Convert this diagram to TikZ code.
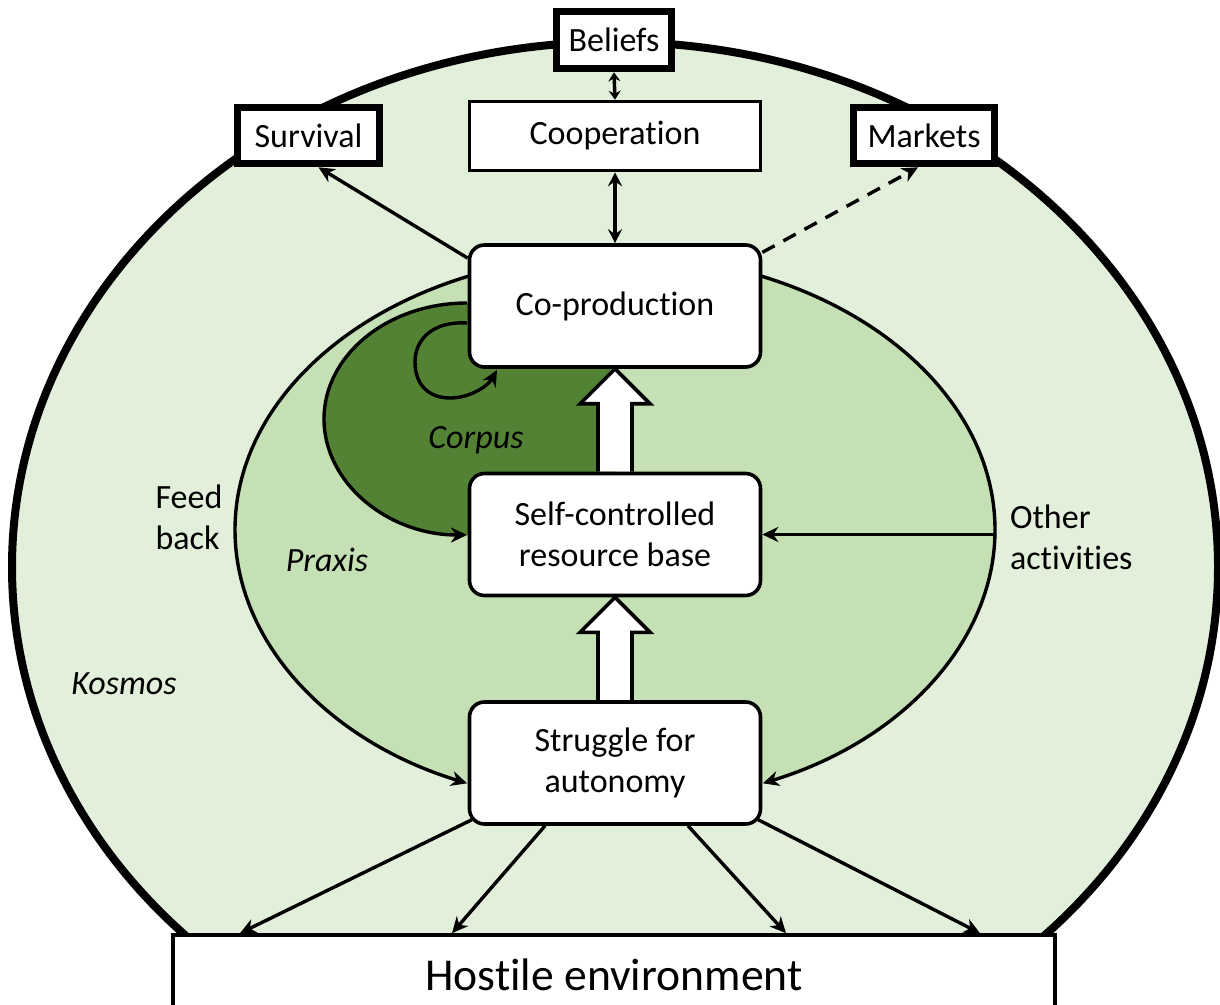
\documentclass[tikz,border=0pt]{standalone}
\usepackage{fontspec}
\setmainfont{Carlito}[Ligatures=NoCommon]
\usetikzlibrary{arrows.meta,calc,backgrounds}
\definecolor{kosmos}{HTML}{E2EFDA}
\definecolor{praxis}{HTML}{C5E0B4}
\definecolor{corpus}{HTML}{548235}

\begin{document}
\begin{tikzpicture}[x=0.5pt,y=-0.5pt,
  txt/.style={font=\fontsize{17}{20.5}\selectfont},
  itxt/.style={font=\fontsize{17}{20.5}\selectfont\itshape},
  box/.style={draw,line width=1.8pt,fill=white,rounded corners=7.5pt,minimum width=145.5pt,minimum height=61pt,align=center,txt},
  plainbox/.style={draw,line width=1.8pt,fill=white,minimum width=145.5pt,minimum height=34.5pt,txt},
  boldbox/.style={draw,line width=3.8pt,fill=white,inner sep=0pt,minimum height=28pt,txt},
  arr/.style={line width=1.7pt,-{Stealth[length=8pt,width=7.5pt,inset=2.5pt]}},
  dblarr/.style={line width=1.7pt,{Stealth[length=7pt,width=7pt,inset=2.5pt]}-{Stealth[length=7pt,width=7pt,inset=2.5pt]}},
  shortdblarr/.style={line width=1.7pt,{Stealth[length=4.5pt,width=6pt,inset=1.5pt]}-{Stealth[length=4.5pt,width=6pt,inset=1.5pt]}},
  blockarrow/.style={draw,line width=1.8pt,fill=white}]
\useasboundingbox (0,0) rectangle (1220,1005);

% boxes
\node[boldbox,minimum width=57.5pt,minimum height=28.5pt] (beliefs) at (614,40) {Beliefs};
\node[boldbox,minimum width=71pt] (survival) at (308.5,135.5) {Survival};
\node[boldbox,minimum width=70.5pt] (markets) at (924,135.5) {Markets};
\node[plainbox] (coop) at (615,136) {Cooperation};
\node[box] (coprod) at (615,306) {Co-production};
\node[box] (self) at (615,534.5) {Self-controlled\\resource base};
\node[box] (struggle) at (615,763) {Struggle for\\autonomy};
\node[draw,line width=1.8pt,fill=white,minimum width=441pt,minimum height=40pt,font=\fontsize{22.8}{27}\selectfont] (hostile) at (614,975) {Hostile environment};

\begin{pgfonlayer}{background}
\clip (0,0) rectangle (1220,1005);
% Kosmos
\draw[fill=kosmos,line width=4pt] (615,567) ellipse [x radius=603,y radius=525];
% Praxis
\fill[praxis] (615,530) ellipse [x radius=380,y radius=275];
\draw[arr] (615,255) arc [start angle=-90,end angle=-247.1,x radius=380,y radius=275];
\draw[arr] (615,255) arc [start angle=-90,end angle=67.1,x radius=380,y radius=275];
% Corpus
\fill[corpus] (467,303) arc [start angle=-90,end angle=-270,x radius=143,y radius=116] -- (615,535) -- (615,303) -- cycle;
\draw[arr] (467,303) arc [start angle=-90,end angle=-270,x radius=143,y radius=116];
\draw[arr] (467,323) .. controls (432,321) and (415,340) .. (415,362) .. controls (415,386) and (430,398) .. (450,398) .. controls (470,398) and (488,386) .. (497,370);
% big white arrows
\foreach \lo/\hi in {self/coprod,struggle/self}
  \draw[blockarrow] ($(\lo.north)+(-17,0)$) -- ($(\hi.south)+(-17,35)$) -- ($(\hi.south)+(-35,35)$) -- (\hi.south)
    -- ($(\hi.south)+(35,35)$) -- ($(\hi.south)+(17,35)$) -- ($(\lo.north)+(17,0)$);
\end{pgfonlayer}

% connectors
\coordinate (praxisE) at (995,0);
\draw[shortdblarr] (beliefs.south) -- (coop.north);
\draw[dblarr] (coop.south) -- (coprod.north);
\draw[arr] (coprod.162) -- ($(survival.south)+(10,0)$);
\draw[arr,dash pattern=on 7pt off 5pt] (coprod.20) -- ($(markets.south)+(-6,0)$);
\draw[arr] (self.east -| praxisE) -- (self.east);
\draw[arr] ($(struggle.south west)+(4,-6)$) -- ($(hostile.north)+(-374,0)$);
\draw[arr] ($(struggle.south)+(-70,0)$) -- ($(hostile.north)+(-162,0)$);
\draw[arr] ($(struggle.south)+(73,0)$) -- ($(hostile.north)+(172,0)$);
\draw[arr] ($(struggle.south east)+(-4,-6)$) -- ($(hostile.north)+(366,0)$);

% labels
\node[txt,align=left] (feedlbl) at (189,517) {Feed\\back};
\node[txt,align=left,anchor=west] (otherlbl) at (1003,537) {Other\\activities};
\node[itxt] (praxislbl) at (327,560) {Praxis};
\node[itxt] (corpuslbl) at (476,440) {Corpus};
\node[itxt] (kosmoslbl) at (124,684) {Kosmos};
\end{tikzpicture}
\end{document}
